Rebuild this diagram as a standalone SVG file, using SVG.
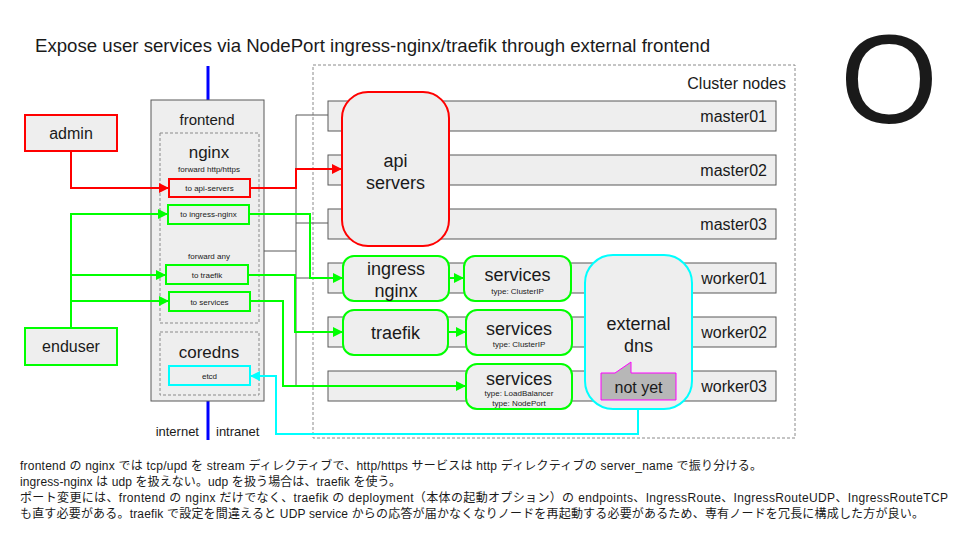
<svg xmlns="http://www.w3.org/2000/svg" width="960" height="540" viewBox="0 0 960 540">
<defs>
<style>
text{font-family:"Liberation Sans","Noto Sans CJK JP",Arial,sans-serif;fill:#1a1a1a}
.box{fill:#eeeeee;stroke:#595959;stroke-width:1}
.dash{fill:none;stroke:#8a8a8a;stroke-width:1;stroke-dasharray:3,2}
.red{fill:#eeeeee;stroke:#ff0000;stroke-width:2}
.grn{fill:#eeeeee;stroke:#00ff00;stroke-width:2}
.cyn{fill:#eeeeee;stroke:#00ffff;stroke-width:2}
.lr{fill:none;stroke:#ff0000;stroke-width:2}
.lg{fill:none;stroke:#00ff00;stroke-width:2}
.lc{fill:none;stroke:#00ffff;stroke-width:2}
.lgray{fill:none;stroke:#595959;stroke-width:1}
.m{text-anchor:middle}
.e{text-anchor:end}
</style>
<marker id="ar" viewBox="0 0 10 10" refX="10" refY="5" markerWidth="6" markerHeight="5" orient="auto" markerUnits="strokeWidth"><path d="M0,0L10,5L0,10z" fill="#ff0000"/></marker>
<marker id="ag" viewBox="0 0 10 10" refX="10" refY="5" markerWidth="6" markerHeight="5" orient="auto" markerUnits="strokeWidth"><path d="M0,0L10,5L0,10z" fill="#00ff00"/></marker>
<marker id="ac" viewBox="0 0 10 10" refX="10" refY="5" markerWidth="6" markerHeight="5" orient="auto" markerUnits="strokeWidth"><path d="M0,0L10,5L0,10z" fill="#00ffff"/></marker>
</defs>
<rect width="960" height="540" fill="#ffffff"/>

<text x="35" y="52" font-size="18.5" textLength="675" lengthAdjust="spacingAndGlyphs">Expose user services via NodePort ingress-nginx/traefik through external frontend</text>
<text x="889" y="123" font-size="126" class="m" fill="#000000">O</text>

<g id="cluster">
<rect x="313" y="65" width="482" height="373" class="dash" stroke="#555555"/>
<text x="786" y="89" font-size="16" class="e">Cluster nodes</text>
</g>
<g id="master01"><rect x="328" y="101" width="448" height="30" class="box"/><text x="767" y="122" font-size="16" class="e">master01</text></g>
<g id="master02"><rect x="328" y="155" width="448" height="30" class="box"/><text x="767" y="176" font-size="16" class="e">master02</text></g>
<g id="master03"><rect x="328" y="209" width="448" height="30" class="box"/><text x="767" y="230" font-size="16" class="e">master03</text></g>
<g id="worker01"><rect x="328" y="263" width="448" height="30" class="box"/><text x="767" y="284" font-size="16" class="e">worker01</text></g>
<g id="worker02"><rect x="328" y="317" width="448" height="30" class="box"/><text x="767" y="338" font-size="16" class="e">worker02</text></g>
<g id="worker03"><rect x="328" y="371" width="448" height="30" class="box"/><text x="767" y="392" font-size="16" class="e">worker03</text></g>

<g id="network">
<line x1="208" y1="66" x2="208" y2="100" stroke="#0000ff" stroke-width="3"/>
<line x1="208" y1="401" x2="208" y2="440" stroke="#0000ff" stroke-width="3"/>
<text x="199" y="436" font-size="13" class="e">internet</text>
<text x="216" y="436" font-size="13">intranet</text>
</g>

<g id="frontend">
<rect x="151" y="100" width="113" height="301" class="box"/>
<text x="207" y="125" font-size="15" class="m">frontend</text>
</g>
<g id="nginx">
<rect x="160" y="133" width="99" height="190" class="dash"/>
<text x="209" y="158" font-size="17" class="m">nginx</text>
<text x="209" y="172" font-size="8" class="m">forward http/https</text>
<text x="209" y="259" font-size="8" class="m">forward any</text>
</g>
<g id="to-api-servers"><rect x="169" y="179" width="81" height="18" class="red" stroke-width="2"/><text x="209.5" y="191" font-size="8" class="m">to api-servers</text></g>
<g id="to-ingress-nginx"><rect x="168" y="205" width="81" height="19" class="grn"/><text x="208.5" y="217" font-size="8" class="m">to ingress-nginx</text></g>
<g id="to-traefik"><rect x="166" y="265" width="82" height="19" class="grn"/><text x="207" y="278" font-size="8" class="m">to traefik</text></g>
<g id="to-services"><rect x="169" y="292" width="81" height="19" class="grn"/><text x="209.5" y="305" font-size="8" class="m">to services</text></g>
<g id="coredns">
<rect x="160" y="332" width="99" height="63" class="dash"/>
<text x="209" y="358" font-size="17" class="m">coredns</text>
</g>
<g id="etcd"><rect x="169" y="366" width="81" height="19" class="cyn"/><text x="209.5" y="379" font-size="8" class="m">etcd</text></g>

<g id="admin"><rect x="25" y="115" width="92" height="36" class="red"/><text x="71" y="139" font-size="16" class="m">admin</text></g>
<g id="enduser"><rect x="25" y="328" width="92" height="37" class="grn"/><text x="71" y="352" font-size="16" class="m">enduser</text></g>

<g id="api-servers"><rect x="342" y="92" width="107" height="154" rx="26" class="red"/><text x="395.5" y="167" font-size="18" class="m">api</text><text x="395.5" y="189" font-size="18" class="m">servers</text></g>
<g id="ingress-nginx"><rect x="343" y="256" width="106" height="45" rx="11" class="grn"/><text x="396" y="275" font-size="18" class="m">ingress</text><text x="396" y="297" font-size="18" class="m">nginx</text></g>
<g id="traefik"><rect x="343" y="310" width="105" height="45" rx="11" class="grn"/><text x="395.5" y="339" font-size="18" class="m">traefik</text></g>
<g id="services1"><rect x="464" y="256" width="107" height="45" rx="11" class="grn"/><text x="517.5" y="281" font-size="18" class="m">services</text><text x="517.5" y="294" font-size="8" class="m">type: ClusterIP</text></g>
<g id="services2"><rect x="466" y="310" width="106" height="45" rx="11" class="grn"/><text x="519" y="335" font-size="18" class="m">services</text><text x="519" y="347" font-size="8" class="m">type: ClusterIP</text></g>
<g id="services3"><rect x="466" y="364" width="106" height="45" rx="11" class="grn"/><text x="519" y="385" font-size="18" class="m">services</text><text x="519" y="396" font-size="8" class="m">type: LoadBalancer</text><text x="519" y="406" font-size="8" class="m">type: NodePort</text></g>
<g id="external-dns"><rect x="585" y="255" width="107" height="154" rx="28" class="cyn"/><text x="638.5" y="330" font-size="18" class="m">external</text><text x="638.5" y="352" font-size="18" class="m">dns</text></g>
<g id="not-yet"><path d="M601,373H615L631,362V373H676V400H601Z" fill="#b7b7b7" stroke="#ff00ff" stroke-width="1"/><text x="638.5" y="393" font-size="16" class="m">not yet</text></g>

<g id="connectors">
<path class="lgray" d="M264,251H296M296,115V386M296,115H328M296,169H328M296,223H328M296,278H328M296,332H328M296,386H328"/>
<path class="lr" d="M71,151V188H169" marker-end="url(#ar)"/>
<path class="lr" d="M250,188H296V169H342" marker-end="url(#ar)"/>
<path class="lg" d="M71,328V214H168" marker-end="url(#ag)"/>
<path class="lg" d="M71,275H166" marker-end="url(#ag)"/>
<path class="lg" d="M71,301H169" marker-end="url(#ag)"/>
<path class="lg" d="M249,214H310V278H343" marker-end="url(#ag)"/>
<path class="lg" d="M248,275H295V332H343" marker-end="url(#ag)"/>
<path class="lg" d="M250,301H283V386H466" marker-end="url(#ag)"/>
<path class="lg" d="M449,278H464" marker-end="url(#ag)"/>
<path class="lg" d="M448,332H466" marker-end="url(#ag)"/>
<path class="lc" d="M638,409V434H276V376H250" marker-end="url(#ac)"/>
</g>

<g id="notes" font-size="12">
<text x="20" y="470" textLength="742" lengthAdjust="spacing">frontend の nginx では tcp/upd を stream ディレクティブで、http/https サービスは http ディレクティブの server_name で振り分ける。</text>
<text x="20" y="486" textLength="381" lengthAdjust="spacing">ingress-nginx は udp を扱えない。udp を扱う場合は、traefik を使う。</text>
<text x="20" y="502" textLength="928" lengthAdjust="spacing">ポート変更には、frontend の nginx だけでなく、traefik の deployment（本体の起動オプション）の endpoints、IngressRoute、IngressRouteUDP、IngressRouteTCP</text>
<text x="20" y="518" textLength="904" lengthAdjust="spacing">も直す必要がある。traefik で設定を間違えると UDP service からの応答が届かなくなりノードを再起動する必要があるため、専有ノードを冗長に構成した方が良い。</text>
</g>
</svg>
